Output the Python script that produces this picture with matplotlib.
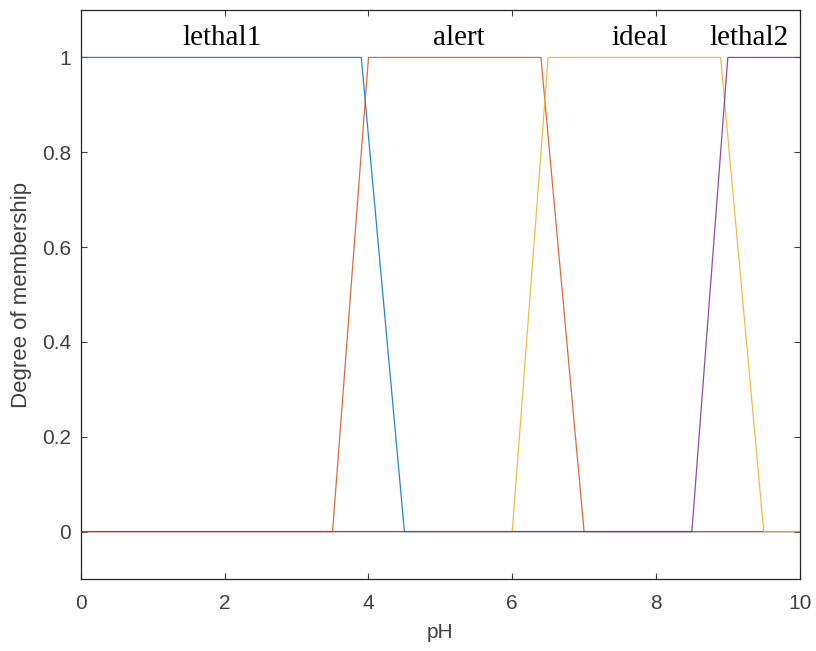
import matplotlib
matplotlib.use("Agg")
import matplotlib.pyplot as plt
import numpy as np

# Trapezoidal membership functions for pH (a, b, c, d)
mf_names = ["lethal1", "alert", "ideal", "lethal2"]
mf_params = [
    [0.0, 0.0, 3.9, 4.5],
    [3.5, 4.0, 6.4, 7.0],
    [6.0, 6.5, 8.9, 9.5],
    [8.5, 9.0, 10.0, 10.0],
]
mf_colors = ["#0072BD", "#D95319", "#EDB120", "#7E2F8E"]
label_x = [1.96, 5.26, 7.77, 9.3]
label_y = 1.042

x_ticks = [0, 2, 4, 6, 8, 10]
y_ticks = [0, 0.2, 0.4, 0.6, 0.8, 1]
y_ticklabels = ["0", "0.2", "0.4", "0.6", "0.8", "1"]


def trapmf(x, a, b, c, d):
    """Trapezoid membership, same as MATLAB's trapmf."""
    up = np.ones_like(x) if b == a else (x - a) / (b - a)
    down = np.ones_like(x) if d == c else (d - x) / (d - c)
    y = np.clip(np.minimum(up, down), 0, 1)
    y[(x < a) | (x > d)] = 0
    return y


x = np.linspace(0, 10, 1001)

plt.rcParams["font.family"] = ["Liberation Sans", "DejaVu Sans"]
fig = plt.figure(figsize=(8.16, 6.51), dpi=100)
ax = fig.add_axes([0.0993, 0.1106, 0.8807, 0.874])

for p, col in zip(mf_params, mf_colors):
    ax.plot(x, trapmf(x, *p), color=col, linewidth=0.9, alpha=0.85)

for name, lx in zip(mf_names, label_x):
    ax.text(lx, label_y, name, ha="center", va="center",
            family="Liberation Serif", fontsize=21)

ax.set_xlim(0, 10)
ax.set_ylim(-0.1, 1.1)
ax.set_xticks(x_ticks)
ax.set_yticks(y_ticks)
ax.set_yticklabels(y_ticklabels)
ax.tick_params(direction="in", top=True, right=True, length=4.5,
               labelsize=15, colors="#404040", pad=7)
ax.tick_params(axis="x", pad=11)
ax.set_xlabel("pH", fontsize=15, color="#404040", labelpad=7)
ax.set_ylabel("Degree of membership", fontsize=16, color="#404040", labelpad=7)
for spine in ax.spines.values():
    spine.set_color("#262626")
    spine.set_linewidth(0.9)

fig.savefig("out.png", dpi=100)
